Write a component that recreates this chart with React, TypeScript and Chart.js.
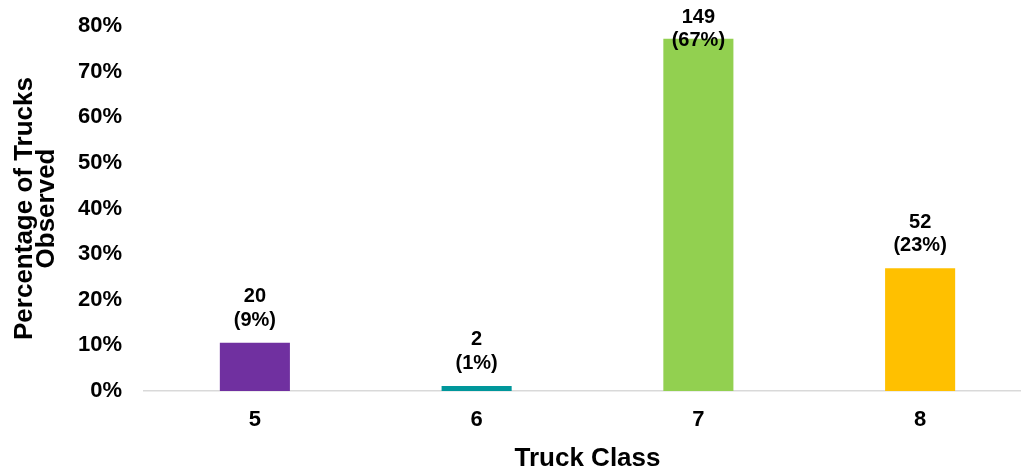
import React, { useEffect, useRef } from "react";
import { Chart, registerables } from "chart.js";

Chart.register(...registerables);

const categories = ["5", "6", "7", "8"];
const barHeights = [10.6, 1.1, 77.2, 26.9];
const counts = [20, 2, 149, 52];
const percentLabels = ["9%", "1%", "67%", "23%"];
const barColors = ["#7030A0", "#00979B", "#92D050", "#FFC000"];
const yTicks = [0, 10, 20, 30, 40, 50, 60, 70, 80];

const FONT = "'Liberation Sans', Arial, sans-serif";

const labelPlugin = {
  id: "barLabels",
  afterDatasetsDraw(chart: any) {
    const ctx = chart.ctx;
    const meta = chart.getDatasetMeta(0);
    ctx.save();
    ctx.font = `bold 20px ${FONT}`;
    ctx.fillStyle = "#000000";
    ctx.textAlign = "center";
    ctx.textBaseline = "alphabetic";
    meta.data.forEach((bar: any, i: number) => {
      let line1 = bar.y - 40.5;
      if (line1 < 22.7) line1 = 22.7;
      const line2 = line1 + 23.5;
      ctx.fillText(String(counts[i]), bar.x, line1);
      ctx.fillText(`(${percentLabels[i]})`, bar.x, line2);
    });
    ctx.restore();
  },
};

export default function App() {
  const ref = useRef<HTMLCanvasElement | null>(null);
  useEffect(() => {
    if (!ref.current) return;
    const chart = new Chart(ref.current, {
      type: "bar",
      data: {
        labels: categories,
        datasets: [
          {
            data: barHeights,
            backgroundColor: barColors,
            borderWidth: 0,
            barPercentage: 0.316,
            categoryPercentage: 1,
          },
        ],
      },
      options: {
        responsive: false,
        animation: false,
        devicePixelRatio: 1,
        layout: { padding: { top: 26, left: 0, right: 0, bottom: 0 } },
        plugins: {
          legend: { display: false },
          tooltip: { enabled: false },
          title: { display: false },
        },
        scales: {
          x: {
            grid: { display: false, drawTicks: false },
            border: { display: true, color: "#D9D9D9", width: 1.5 },
            ticks: {
              color: "#000000",
              font: { family: FONT, size: 22, weight: "bold" },
              padding: 16,
            },
            title: {
              display: true,
              text: "Truck Class",
              color: "#000000",
              font: { family: FONT, size: 26, weight: "bold", lineHeight: 0.85 },
              padding: { top: 0, bottom: 0 },
            },
            afterFit: (s: any) => {
              s.height = 79;
              s.paddingLeft = 0;
              s.paddingRight = 0;
            },
          },
          y: {
            min: 0,
            max: 80,
            grid: { display: false, drawTicks: false },
            border: { display: false },
            afterBuildTicks: (s: any) => {
              s.ticks = yTicks.map((v) => ({ value: v }));
            },
            ticks: {
              color: "#000000",
              font: { family: FONT, size: 22, weight: "bold" },
              padding: 22,
              callback: (v: any) => `${v}%`,
            },
            title: {
              display: true,
              text: ["Percentage of Trucks", "Observed"],
              color: "#000000",
              font: { family: FONT, size: 26, weight: "bold", lineHeight: 0.85 },
              padding: { top: 14, bottom: 0 },
            },
            afterFit: (s: any) => {
              s.width = 144;
              s.paddingTop = 0;
              s.paddingBottom = 0;
            },
          },
        },
      },
      plugins: [labelPlugin],
    });
    return () => chart.destroy();
  }, []);

  return (
    <div
      style={{
        position: "fixed",
        left: 0,
        top: 0,
        width: 1021,
        height: 470,
        overflow: "hidden",
        background: "#ffffff",
      }}
    >
      <canvas ref={ref} width={1031} height={470} style={{ width: 1031, height: 470, display: "block" }} />
    </div>
  );
}
